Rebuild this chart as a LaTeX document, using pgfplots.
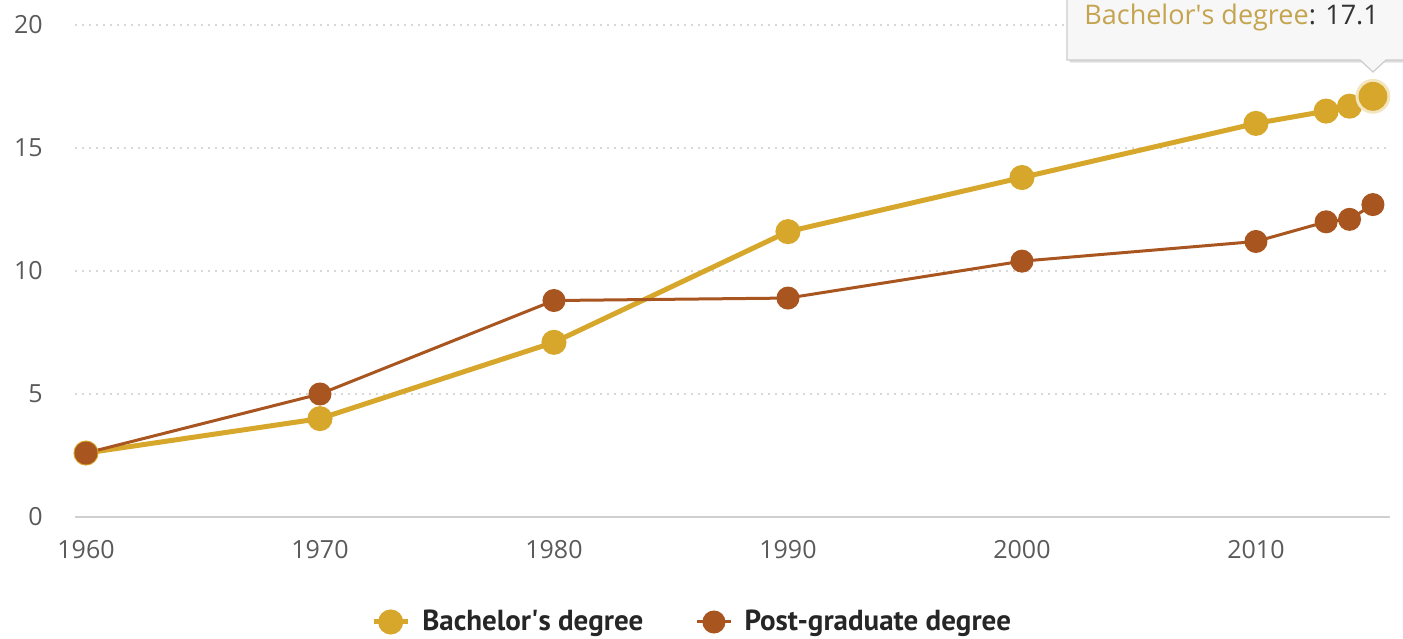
\documentclass[border=0pt]{standalone}
\usepackage{fontspec}
\setmainfont{Open Sans}
\newfontfamily\legfont{PT Sans}
\usepackage{pgfplots}
\pgfplotsset{compat=1.18}
\definecolor{gold}{HTML}{D6A72B}
\definecolor{brown}{HTML}{A85520}
\definecolor{tick}{HTML}{5A5A5A}
\definecolor{gridc}{HTML}{D0D0D0}
\definecolor{gridd}{HTML}{D8D8D8}
\begin{document}
\begin{tikzpicture}
\useasboundingbox (0,0) rectangle (701.5pt,319pt);
\clip (0,0) rectangle (701.5pt,319pt);
\begin{axis}[
  at={(37.5pt,60.5pt)}, anchor=south west,
  scale only axis, width=657.5pt, height=246pt,
  xmin=1959.53, xmax=2015.73, ymin=0, ymax=20,
  xtick={1960,1970,1980,1990,2000,2010},
  ytick={0,5,10,15,20},
  axis x line*=bottom, axis y line*=left,
  x axis line style={draw=gridc, line width=0.8pt, -},
  y axis line style={draw=none, -},
  major tick length=0pt,
  ymajorgrids,
  grid style={draw=gridd, line width=0.9pt, dash pattern=on 1pt off 2.5pt},
  /pgf/number format/1000 sep={},
  /pgf/number format/assume math mode=true,
  tick label style={font=\fontsize{12.5}{14}\selectfont, text=tick},
  yticklabel style={anchor=east, inner sep=0pt, xshift=-16pt},
  xticklabel style={anchor=north, inner sep=0pt, yshift=-11.5pt},
  clip=false,
  legend columns=2,
  legend style={at={(0.470,-0.2134)}, anchor=center, draw=none, fill=none,
    font=\legfont\bfseries\fontsize{14.5}{16}\selectfont, text=black!85,
    /tikz/every even column/.append style={column sep=24pt},
    /tikz/every odd column/.append style={}},
  legend cell align=left,
]
\addplot[color=gold, line width=2.5pt, mark=*, mark size=5pt, mark options={solid}]
  coordinates {(1960,2.6) (1970,4.0) (1980,7.1) (1990,11.6) (2000,13.8) (2010,16.0) (2013,16.5) (2014,16.7) (2015,17.1)};
\addlegendentry{\hspace{4pt}Bachelor\textquotesingle s degree}
\addplot[color=brown, line width=1.5pt, mark=*, mark size=5pt, mark options={solid}]
  coordinates {(1960,2.6) (1970,5.0) (1980,8.8) (1990,8.9) (2000,10.4) (2010,11.2) (2013,12.0) (2014,12.1) (2015,12.7)};
\addlegendentry{\hspace{4pt}Post-graduate degree}
\addplot[forget plot, only marks, color=gold!30, mark=*, mark size=8.5pt]
  coordinates {(2015,17.1)};
\addplot[forget plot, only marks, color=gold, mark=*, mark size=7pt]
  coordinates {(2015,17.1)};
\end{axis}
% tooltip
\fill[black, opacity=0.08] (535pt,287.5pt) rectangle (720pt,325pt);
\fill[black, opacity=0.06] (534.5pt,288pt) rectangle (720pt,325pt);
\filldraw[fill=white!97!black, draw=black!20, line width=0.6pt]
  (533.5pt,289pt) -- (680pt,289pt) -- (686.5pt,283pt) -- (693pt,289pt) -- (720pt,289pt)
  -- (720pt,325pt) -- (533.5pt,325pt) -- cycle;
\node[anchor=base west, inner sep=0pt, font=\fontsize{13.5}{15}\selectfont] at (542pt,306.5pt)
  {\textcolor{gold!85!black!80!white}{Bachelor\textquotesingle s degree}\textcolor{black!80}{: 17.1}};
\end{tikzpicture}
\end{document}
